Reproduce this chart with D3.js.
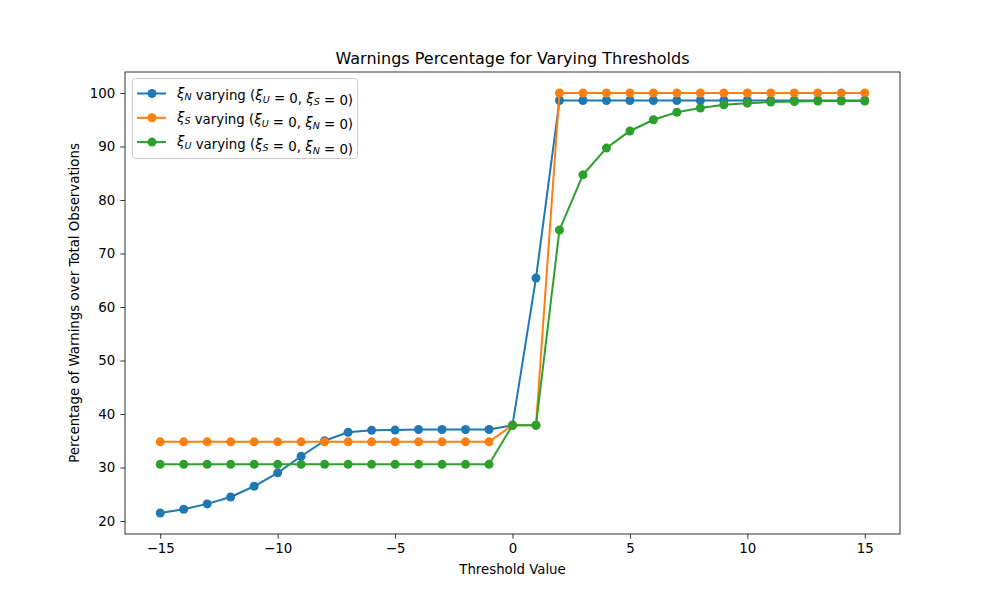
<!DOCTYPE html>
<html>
<head>
<meta charset="utf-8">
<script src="https://cdn.jsdelivr.net/npm/d3@7"></script>
<style>
  body { margin: 0; background: #fff; }
  text { font-family: "DejaVu Sans", sans-serif; fill: #000; }
</style>
</head>
<body>
<div id="chart"></div>
<script>
const width = 1000;
const height = 600;

// Threshold values on the x axis
const thresholds = d3.range(-15, 16);

// Percentages
const xiN = [21.5, 22.2, 23.2, 24.5, 26.5, 29.0, 32.1, 35.0, 36.6, 36.95, 37.0, 37.1, 37.1, 37.1, 37.1,
             37.9, 65.4, 98.6, 98.6, 98.6, 98.6, 98.6, 98.6, 98.6, 98.6, 98.6, 98.6, 98.6, 98.6, 98.6, 98.6];
const xiS = [34.8, 34.8, 34.8, 34.8, 34.8, 34.8, 34.8, 34.8, 34.8, 34.8, 34.8, 34.8, 34.8, 34.8, 34.8,
             37.9, 37.9, 100, 100, 100, 100, 100, 100, 100, 100, 100, 100, 100, 100, 100, 100];
const xiU = [30.6, 30.6, 30.6, 30.6, 30.6, 30.6, 30.6, 30.6, 30.6, 30.6, 30.6, 30.6, 30.6, 30.6, 30.6,
             37.9, 37.9, 74.4, 84.7, 89.7, 92.9, 95.0, 96.4, 97.2, 97.8, 98.1, 98.3, 98.4, 98.5, 98.5, 98.5];

const xTicks = [-15, -10, -5, 0, 5, 10, 15];
const yTicks = [20, 30, 40, 50, 60, 70, 80, 90, 100];

// legend: [main subscript, first other sub, second other sub]
const seriesList = [
  { values: xiN, color: "#1f77b4", sub: "N", o1: "U", o2: "S" },
  { values: xiS, color: "#ff7f0e", sub: "S", o1: "U", o2: "N" },
  { values: xiU, color: "#2ca02c", sub: "U", o1: "S", o2: "N" }
];

const margin = { left: 125, right: 100, top: 72, bottom: 66 };

const svg = d3.select("#chart")
    .append("svg")
    .attr("width", width)
    .attr("height", height);

svg.append("rect")
    .attr("width", width)
    .attr("height", height)
    .attr("fill", "#fff");

const x = d3.scaleLinear()
    .domain([-16.5, 16.5])
    .range([margin.left, width - margin.right]);

const allVals = xiN.concat(xiS, xiU);
const yMin = d3.min(allVals), yMax = d3.max(allVals);
const pad = (yMax - yMin) * 0.05;
const y = d3.scaleLinear()
    .domain([yMin - pad, yMax + pad])
    .range([height - margin.bottom, margin.top]);

// Axes
const xAxis = svg.append("g")
    .attr("transform", `translate(0,${height - margin.bottom})`)
    .call(d3.axisBottom(x).tickValues(xTicks).tickSize(4.7).tickPadding(5)
        .tickFormat(d => d < 0 ? "\u2212" + Math.abs(d) : d));

const yAxis = svg.append("g")
    .attr("transform", `translate(${margin.left},0)`)
    .call(d3.axisLeft(y).tickValues(yTicks).tickSize(4.7).tickPadding(5));

[xAxis, yAxis].forEach(g => {
  g.select(".domain").remove();
  g.selectAll(".tick line").attr("stroke", "#000").attr("stroke-width", 0.8);
  g.selectAll(".tick text").attr("font-size", 13.33).attr("font-family", "DejaVu Sans").attr("fill", "#000");
});

// Lines and markers
const line = d3.line()
    .x((d, i) => x(thresholds[i]))
    .y(d => y(d));

seriesList.forEach(s => {
  svg.append("path")
      .datum(s.values)
      .attr("fill", "none")
      .attr("stroke", s.color)
      .attr("stroke-width", 2)
      .attr("d", line);
  svg.append("g")
    .selectAll("circle")
    .data(s.values)
    .enter()
    .append("circle")
      .attr("cx", (d, i) => x(thresholds[i]))
      .attr("cy", d => y(d))
      .attr("r", 4.5)
      .attr("fill", s.color);
});

// Frame
svg.append("rect")
    .attr("x", margin.left)
    .attr("y", margin.top)
    .attr("width", width - margin.left - margin.right)
    .attr("height", height - margin.top - margin.bottom)
    .attr("fill", "none")
    .attr("stroke", "#000")
    .attr("stroke-width", 0.8);

// Titles
svg.append("text")
    .attr("x", (margin.left + width - margin.right) / 2)
    .attr("y", 64)
    .attr("text-anchor", "middle")
    .attr("font-size", 16)
    .text("Warnings Percentage for Varying Thresholds");

svg.append("text")
    .attr("x", (margin.left + width - margin.right) / 2)
    .attr("y", 574)
    .attr("text-anchor", "middle")
    .attr("font-size", 13.33)
    .text("Threshold Value");

svg.append("text")
    .attr("transform", `translate(79,${(margin.top + height - margin.bottom) / 2}) rotate(-90)`)
    .attr("text-anchor", "middle")
    .attr("font-size", 13.33)
    .text("Percentage of Warnings over Total Observations");

// Legend
const legend = svg.append("g");
legend.append("rect")
    .attr("x", 132.5)
    .attr("y", 78.5)
    .attr("width", 225)
    .attr("height", 80)
    .attr("rx", 3)
    .attr("fill", "#fff")
    .attr("fill-opacity", 0.8)
    .attr("stroke", "#ccc")
    .attr("stroke-width", 1);

seriesList.forEach((s, i) => {
  const cy = 93.5 + i * 24.3;
  legend.append("line")
      .attr("x1", 137).attr("x2", 166)
      .attr("y1", cy).attr("y2", cy)
      .attr("stroke", s.color).attr("stroke-width", 2);
  legend.append("circle")
      .attr("cx", 152).attr("cy", cy).attr("r", 4.5).attr("fill", s.color);

  const t = legend.append("text")
      .attr("x", 177)
      .attr("y", cy + 4)
      .attr("font-size", 13.33);
  const xi = (g, sub) => {
    g.append("tspan").attr("font-style", "italic").text("\u03BE");
    g.append("tspan").attr("font-style", "italic").attr("font-size", 9.5).attr("dy", 2.5).text(sub);
    g.append("tspan").attr("dy", -2.5).text("");
  };
  xi(t, s.sub);
  t.append("tspan").text(" varying (");
  xi(t, s.o1);
  t.append("tspan").text(" = 0, ");
  xi(t, s.o2);
  t.append("tspan").text(" = 0)");
});
</script>
</body>
</html>
